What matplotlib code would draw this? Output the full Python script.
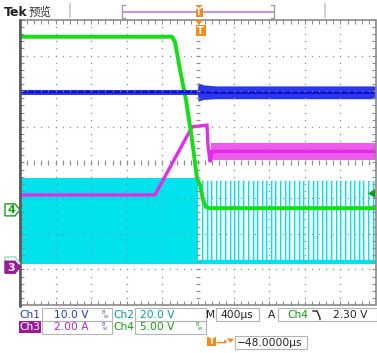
import numpy as np
import matplotlib
matplotlib.use("Agg")
import matplotlib.pyplot as plt
from matplotlib.patches import Polygon, Rectangle
from matplotlib.lines import Line2D
from matplotlib.collections import LineCollection

# ---------------- data (time in µs, level in screen divisions) ----------------
green_t = [-2000, -292, -258, -202, -135, -67, -11, 22, 56, 90, 124, 2000]
green_y = [3.53, 3.53, 3.38, 2.60, 1.76, 0.63, -0.44, -0.63, -1.05, -1.25, -1.28, -1.28]

blue_t = [-2000, -5, 0, 60, 200, 2000]
blue_y = [1.98, 1.98, 1.98, 1.97, 1.96, 1.96]
blue_hi = [2.05, 2.05, 2.24, 2.18, 2.15, 2.15]
blue_lo = [1.91, 1.91, 1.72, 1.77, 1.79, 1.79]

mag_t = [-2000, -483, -67, 101, 112, 135, 160, 2000]
mag_y = [-0.91, -0.91, 1.00, 1.05, 0.50, 0.01, 0.31, 0.31]
mag_band_t = [150, 2000]
mag_band_hi = [0.54, 0.54]
mag_band_lo = [0.08, 0.08]

cyan_fill_t = [-2000, 0]
cyan_fill_top = [-0.44, -0.44]
cyan_low = -2.80
cyan_pulse_top = -0.52
cyan_pulse_t = [55, 108, 160, 210, 262, 316, 370, 412, 466, 520, 574, 628, 675,
                725, 778, 830, 882, 934, 986, 1038, 1090, 1142, 1194, 1246, 1298,
                1350, 1402, 1454, 1506, 1558, 1610, 1662, 1714, 1766, 1818, 1870,
                1922, 1974]

ch_markers = {"2": -2.82, "3": -2.94, "4": -1.33}
trig_level = -0.87

row1 = ["Ch1", "10.0 V", "Ch2", "20.0 V", "M", "400µs", "A", "Ch4", "2.30 V"]
row2 = ["Ch3", "2.00 A", "Ch4", "5.00 V"]
trig_pos = "−48.0000µs"

# ---------------- colours ----------------
C_GREEN = "#12e012"
C_BLUE = "#0c0cd8"
C_BLUE_L = "#2c36ea"
C_MAG = "#e62be6"
C_MAG_L = "#ee5cee"
C_CYAN = "#00e3ec"
C_ORANGE = "#f28a1e"
GRID = "#8e8e8e"

W, H = 377, 353
fig = plt.figure(figsize=(W / 100, H / 100), dpi=100)
fig.patch.set_facecolor("white")

L, T, R, B = 20, 20, 376, 305
ax = fig.add_axes([L / W, 1 - B / H, (R - L) / W, (B - T) / H])
ax.set_xlim(-2000, 2000)
ax.set_ylim(-4, 4)
ax.axis("off")


def fx(x):
    return x / W


def fy(y):
    return 1 - y / H


def ftxt(x, y, s, **kw):
    kw.setdefault("va", "center")
    kw.setdefault("ha", "left")
    fig.text(fx(x), fy(y), s, **kw)


def frect(x0, y0, x1, y1, **kw):
    fig.patches.append(Rectangle((fx(x0), fy(y1)), (x1 - x0) / W, (y1 - y0) / H,
                                 transform=fig.transFigure, **kw))


def fpoly(pts, **kw):
    fig.patches.append(Polygon([(fx(a), fy(b)) for a, b in pts], closed=True,
                               transform=fig.transFigure, **kw))


def fline(xs, ys, **kw):
    fig.lines.append(Line2D([fx(a) for a in xs], [fy(b) for b in ys],
                            transform=fig.transFigure, **kw))


# ---------------- traces ----------------
ax.fill_between(cyan_fill_t, cyan_low, cyan_fill_top, color=C_CYAN, lw=0, zorder=1)
ax.vlines(cyan_pulse_t, cyan_low, cyan_pulse_top, color=C_CYAN, lw=1.5, zorder=1)
ax.vlines(cyan_pulse_t, cyan_low, cyan_pulse_top, color="#b8f7fa", lw=0.6, zorder=1)
ax.plot([-2000, 2000], [cyan_low, cyan_low], color=C_CYAN, lw=3, zorder=1,
        solid_capstyle="butt")

ax.fill_between(mag_band_t, mag_band_lo, mag_band_hi, color=C_MAG_L, lw=0, zorder=2)
ax.plot(mag_band_t, [(a + b) / 2 for a, b in zip(mag_band_lo, mag_band_hi)],
        color=C_MAG, lw=1.6, zorder=2)
ax.plot(mag_t, mag_y, color=C_MAG, lw=2.4, zorder=2, solid_joinstyle="miter")

ax.plot(green_t, green_y, color=C_GREEN, lw=2.8, zorder=3)

ax.fill_between(blue_t, blue_lo, blue_hi, color=C_BLUE_L, lw=0, zorder=4)
ax.plot(blue_t, blue_y, color=C_BLUE, lw=1.6, zorder=4)

# ---------------- graticule ----------------
xs_fine = np.arange(-2000, 2001, 80)
ys_fine = np.arange(-4, 4.001, 0.2)
for k in range(-4, 5):
    ax.plot([400 * k] * len(ys_fine), ys_fine, ls="none", marker="s", ms=0.9,
            mew=0, color=GRID, zorder=6)
for j in range(-3, 4):
    ax.plot(xs_fine, [j] * len(xs_fine), ls="none", marker="s", ms=0.9,
            mew=0, color=GRID, zorder=6)
segs = []
for x in xs_fine:
    segs.append([(x, -0.06), (x, 0.06)])
    segs.append([(x, -4), (x, -3.9)])
    segs.append([(x, 4), (x, 3.9)])
for y in ys_fine:
    segs.append([(-24, y), (24, y)])
    segs.append([(-2000, y), (-1960, y)])
    segs.append([(2000, y), (1960, y)])
ax.add_collection(LineCollection(segs, colors=GRID, lw=0.8, zorder=6))

# frame
frect(L, T, R, B, fill=False, ec="#8a8a8a", lw=1.2, zorder=7)
fline([L, L], [T, B + 1], color="#555555", lw=1.8, zorder=8)

# ---------------- markers ----------------
def ypix(level):
    return H - ax.transData.transform((0, level))[1]


def ch_marker(level, label, fc, ec, tc):
    yc = ypix(level)
    pts = [(5, yc - 6), (15, yc - 6), (20, yc), (15, yc + 6), (5, yc + 6)]
    fpoly(pts, fc=fc, ec=ec, lw=1.0, zorder=9)
    if label:
        ftxt(11, yc + 0.5, label, ha="center", fontsize=8, color=tc,
             fontweight="bold", zorder=10)


# channel 2 marker sits almost completely behind the channel 3 marker
ch_marker(ch_markers["2"], "", "white", "#8fd8dc", "#8fd8dc")
ch_marker(ch_markers["3"], "3", "#9a1a9a", "#9a1a9a", "white")
ch_marker(ch_markers["4"], "4", "white", "#12a012", "#12a012")

yt = ypix(trig_level)
fpoly([(368, yt), (375, yt - 4.5), (375, yt + 4.5)], fc="#12a012", ec="none", zorder=9)

# trigger position markers (top)
fpoly([(195, 20), (203, 20), (199, 25)], fc=C_ORANGE, ec="none", zorder=9)
frect(195.5, 25, 205.5, 36, fc=C_ORANGE, ec="none", zorder=9)
ftxt(200.5, 30.5, "T", ha="center", fontsize=7, color="white", fontweight="bold", zorder=10)

# ---------------- top bar ----------------
ftxt(4, 12, "Tek", fontsize=9, fontweight="bold", color="#222222")
ftxt(29, 12, "预览", fontsize=8.3, color="#333333",
     family=["Noto Sans CJK SC", "DejaVu Sans"])
fline([70, 70], [4, 17], color="#c8c8c8", lw=1.2)
fline([325, 325], [4, 17], color="#c8c8c8", lw=1.2)
fline([123, 274], [12, 12], color="#c99ad2", lw=1.6)
fline([125, 122, 122, 125], [5, 5, 18, 18], color="#9a9a9a", lw=0.9)
fline([271, 274, 274, 271], [5, 5, 18, 18], color="#9a9a9a", lw=0.9)
fpoly([(195, 5), (203, 5), (199, 8)], fc=C_ORANGE, ec="none", zorder=9)
frect(195.5, 8, 202.5, 17, fc=C_ORANGE, ec="none", zorder=9)
ftxt(199, 12.5, "T", ha="center", fontsize=5.5, color="white", fontweight="bold", zorder=10)

# ---------------- bottom readouts ----------------
FS = 7.7
BOXC = "#b4b4b4"
for (x0, y0, x1, y1) in [(42, 308, 112, 321), (135, 308, 206, 321),
                         (216, 308, 259, 321), (278, 308, 377, 321),
                         (42, 321, 112, 334), (135, 321, 206, 334),
                         (235, 336, 307, 349)]:
    frect(x0, y0, x1, y1, fill=False, ec=BOXC, lw=0.8)

C1 = "#2238c0"
C2 = "#00a0a6"
C3 = "#c020c0"
C4 = "#10a010"

ftxt(19, 314.5, row1[0], fontsize=FS, color=C1)
ftxt(54, 314.5, row1[1], fontsize=FS, color=C1)
ftxt(102, 312, "B", fontsize=3.6, color="#6a4ab0")
ftxt(104, 316, "w", fontsize=3.6, color="#6a4ab0")
ftxt(113, 314.5, row1[2], fontsize=FS, color=C2)
ftxt(140, 314.5, row1[3], fontsize=FS, color=C2)
ftxt(206, 314.5, row1[4], fontsize=FS, color="#222222")
ftxt(221, 314.5, row1[5], fontsize=FS, color="#222222")
ftxt(268, 314.5, row1[6], fontsize=FS, color="#222222")
ftxt(287, 314.5, row1[7], fontsize=FS, color=C4)
fline([313, 317, 320, 320], [311, 311, 318, 319.5], color="#222222", lw=1.0)
ftxt(333, 314.5, row1[8], fontsize=FS, color="#222222")

frect(19, 321, 41, 333, fc="#9a1a9a", ec="none")
ftxt(19.5, 327.5, row2[0], fontsize=FS, color="white")
ftxt(54, 327.5, row2[1], fontsize=FS, color=C3)
ftxt(101, 325, "B", fontsize=3.6, color="#6a4ab0")
ftxt(103, 329, "w", fontsize=3.6, color="#6a4ab0")
ftxt(113, 327.5, row2[2], fontsize=FS, color=C4)
ftxt(140, 327.5, row2[3], fontsize=FS, color=C4)
ftxt(196, 325, "B", fontsize=3.6, color="#10a010")
ftxt(198, 329, "w", fontsize=3.6, color="#10a010")

frect(207, 337, 216, 346, fc=C_ORANGE, ec="none")
ftxt(211.5, 341.5, "T", ha="center", fontsize=6, color="white", fontweight="bold")
fline([217, 225], [341.5, 341.5], color=C_ORANGE, lw=1.0)
fpoly([(224, 339.5), (227, 341.5), (224, 343.5)], fc=C_ORANGE, ec="none")
fpoly([(227, 338.5), (234, 338.5), (230.5, 343)], fc=C_ORANGE, ec="none")
ftxt(237, 342.5, trig_pos, fontsize=FS, color="#222222")

fig.savefig("out.png", dpi=100)
